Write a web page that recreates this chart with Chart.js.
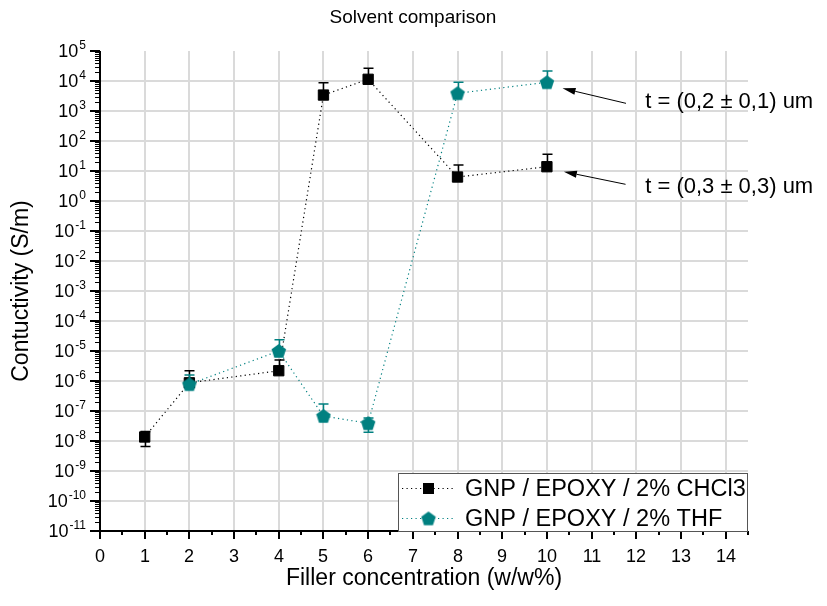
<!DOCTYPE html>
<html>
<head>
<meta charset="utf-8">
<script src="https://cdn.jsdelivr.net/npm/chart.js@4.4.0/dist/chart.umd.min.js"></script>
<style>
  html, body { margin: 0; padding: 0; background: #fff; }
  #wrap { width: 827px; height: 606px; }
</style>
</head>
<body>
<div id="wrap"><canvas id="chart" width="827" height="606"></canvas></div>
<script>
(() => {
  const chartTitle = 'Solvent comparison';
  const xTitle = 'Filler concentration (w/w%)';
  const yTitle = 'Contuctivity (S/m)';

  const xTicks = [0, 1, 2, 3, 4, 5, 6, 7, 8, 9, 10, 11, 12, 13, 14];
  const yExponents = [-11, -10, -9, -8, -7, -6, -5, -4, -3, -2, -1, 0, 1, 2, 3, 4, 5];

  const chclLabel = 'GNP / EPOXY / 2% CHCl3';
  const chclX = [1, 2, 4, 5, 6, 8, 10];
  const chclY = [1.36e-8, 8.7e-7, 2.2e-6, 3.4e3, 1.14e4, 6.3, 13.9];
  const chclErr = [7e-9, 1.33e-6, 2.8e-6, 5.4e3, 1.5e4, 9.5, 22];

  const thfLabel = 'GNP / EPOXY / 2% THF';
  const thfX = [2, 4, 5, 6, 8, 10];
  const thfY = [7.8e-7, 1e-5, 6.8e-8, 3.9e-8, 3.9e3, 9.05e3];
  const thfErr = [8e-7, 1.35e-5, 1.03e-7, 1.95e-8, 5.2e3, 1.25e4];

  // notes: text anchor, arrow tail and tip, all in data units
  const notes = [
    { text: 't = (0,2 \u00b1 0,1) um', at: [12.2, 2.0e3], from: [11.77, 1.8e3], to: [10.35, 5.7e3] },
    { text: 't = (0,3 \u00b1 0,3) um', at: [12.2, 3.0], from: [11.76, 3.6], to: [10.38, 9.5] }
  ];

  const FONT = '"Liberation Sans", Arial, sans-serif';
  const TEAL = '#008080';
  const GRID = '#dadada';

  // pentagon marker
  const pentagon = document.createElement('canvas');
  pentagon.width = 16; pentagon.height = 16;
  {
    const p = pentagon.getContext('2d');
    p.fillStyle = TEAL;
    p.beginPath();
    for (let k = 0; k < 5; k++) {
      const a = -Math.PI / 2 + k * 2 * Math.PI / 5;
      const px = 8 + 7.6 * Math.cos(a), py = 8.6 + 7.6 * Math.sin(a);
      k ? p.lineTo(px, py) : p.moveTo(px, py);
    }
    p.closePath();
    p.fill();
  }

  const toPoints = (xs, ys) => xs.map((x, i) => ({ x, y: ys[i] }));

  const isDecade = v => Math.abs(Math.log10(v) - Math.round(Math.log10(v))) < 1e-6;

  function drawErrors(chart, index) {
    const ds = chart.data.datasets[index];
    const { ctx } = chart;
    const x = chart.scales.x, y = chart.scales.y;
    ctx.save();
    ctx.strokeStyle = ds.errColor;
    ctx.lineWidth = 1.5;
    ds.data.forEach((p, i) => {
      const e = ds.errors[i];
      const px = Math.round(x.getPixelForValue(p.x)) + 0.5;
      const hi = y.getPixelForValue(p.y + e);
      const hasLo = p.y - e > 0;
      const lo = y.getPixelForValue(hasLo ? p.y - e : p.y);
      ctx.beginPath();
      ctx.moveTo(px, hi); ctx.lineTo(px, lo);
      ctx.moveTo(px - 5, hi); ctx.lineTo(px + 5, hi);
      if (hasLo) { ctx.moveTo(px - 5, lo); ctx.lineTo(px + 5, lo); }
      ctx.stroke();
    });
    ctx.restore();
  }

  function arrow(ctx, x1, y1, x2, y2) {
    const ang = Math.atan2(y2 - y1, x2 - x1);
    const len = 13, hw = 3.5;
    const bx = x2 - len * Math.cos(ang), by = y2 - len * Math.sin(ang);
    ctx.beginPath();
    ctx.moveTo(x1, y1); ctx.lineTo(bx, by);
    ctx.stroke();
    ctx.beginPath();
    ctx.moveTo(x2, y2);
    ctx.lineTo(bx + hw * Math.sin(ang), by - hw * Math.cos(ang));
    ctx.lineTo(bx - hw * Math.sin(ang), by + hw * Math.cos(ang));
    ctx.closePath();
    ctx.fill();
  }

  const decor = {
    id: 'decor',
    beforeDatasetDraw(chart, args) { drawErrors(chart, args.index); },
    afterDraw(chart) {
      const { ctx, chartArea: a } = chart;
      const x = chart.scales.x, y = chart.scales.y;
      ctx.save();
      ctx.strokeStyle = '#000';
      ctx.fillStyle = '#000';

      // y ticks
      yExponents.forEach((e, i) => {
        const py = Math.round(y.getPixelForValue(Math.pow(10, e)));
        ctx.lineWidth = 2;
        ctx.beginPath(); ctx.moveTo(a.left - 10, py); ctx.lineTo(a.left, py); ctx.stroke();
        if (i < yExponents.length - 1) {
          ctx.lineWidth = 1;
          for (let m = 2; m <= 9; m++) {
            const my = Math.round(y.getPixelForValue(m * Math.pow(10, e))) + 0.5;
            ctx.beginPath(); ctx.moveTo(a.left - 5, my); ctx.lineTo(a.left, my); ctx.stroke();
          }
        }
        // label 10^e
        ctx.textBaseline = 'alphabetic';
        ctx.font = '12px ' + FONT;
        const sup = String(e);
        const ws = ctx.measureText(sup).width;
        ctx.font = '18px ' + FONT;
        const wb = ctx.measureText('10').width;
        const right = a.left - 14;
        ctx.textAlign = 'left';
        ctx.fillText('10', right - ws - wb - 1, py + 6);
        ctx.font = '12px ' + FONT;
        ctx.fillText(sup, right - ws, py - 2);
      });

      // x ticks
      ctx.font = '18px ' + FONT;
      ctx.textAlign = 'center';
      ctx.textBaseline = 'alphabetic';
      xTicks.forEach(v => {
        const px = Math.round(x.getPixelForValue(v));
        ctx.lineWidth = 2;
        ctx.beginPath(); ctx.moveTo(px, a.bottom); ctx.lineTo(px, a.bottom + 8); ctx.stroke();
        const mx = Math.round(x.getPixelForValue(v + 0.5));
        ctx.beginPath(); ctx.moveTo(mx, a.bottom); ctx.lineTo(mx, a.bottom + 4); ctx.stroke();
        ctx.fillText(String(v), px, a.bottom + 31);
      });

      // axis lines
      ctx.lineWidth = 2;
      ctx.beginPath();
      ctx.moveTo(a.left, a.top); ctx.lineTo(a.left, a.bottom);
      ctx.lineTo(a.right, a.bottom);
      ctx.stroke();

      // titles
      ctx.textBaseline = 'middle';
      ctx.font = '19px ' + FONT;
      ctx.fillText(chartTitle, 413, 18);
      ctx.font = '23px ' + FONT;
      ctx.fillText(xTitle, (a.left + a.right) / 2, 579);
      ctx.save();
      ctx.translate(22, (a.top + a.bottom) / 2);
      ctx.rotate(-Math.PI / 2);
      ctx.fillText(yTitle, 0, 0);
      ctx.restore();

      // notes
      ctx.lineWidth = 1;
      ctx.textAlign = 'left';
      ctx.font = '22px ' + FONT;
      notes.forEach(n => {
        arrow(ctx, x.getPixelForValue(n.from[0]), y.getPixelForValue(n.from[1]),
          x.getPixelForValue(n.to[0]), y.getPixelForValue(n.to[1]));
        ctx.fillText(n.text, x.getPixelForValue(n.at[0]), y.getPixelForValue(n.at[1]));
      });

      // legend
      const lw = 349, lh = 58;
      const lx = a.right - 1 - lw, ly = a.bottom - lh;
      ctx.fillStyle = '#fff';
      ctx.fillRect(lx, ly, lw, lh);
      ctx.strokeStyle = '#555';
      ctx.lineWidth = 1;
      ctx.strokeRect(lx + 0.5, ly + 0.5, lw, lh);
      chart.data.datasets.forEach((ds, i) => {
        const ry = ly + 15.5 + i * 30;
        ctx.save();
        ctx.strokeStyle = ds.borderColor;
        ctx.lineWidth = 1.2;
        ctx.setLineDash(ds.borderDash);
        ctx.beginPath(); ctx.moveTo(lx + 4, ry); ctx.lineTo(lx + 57, ry); ctx.stroke();
        ctx.restore();
        const mx = lx + 30.5;
        if (ds.pointStyle === 'rect') {
          ctx.fillStyle = '#000';
          ctx.fillRect(mx - 5.5, ry - 5.5, 11, 11);
        } else {
          ctx.drawImage(ds.pointStyle, mx - 8, ry - 8);
        }
        ctx.fillStyle = '#000';
        ctx.font = '23.5px ' + FONT;
        ctx.textBaseline = 'middle';
        ctx.fillText(ds.label, lx + 67, ry + 1);
      });
      ctx.restore();
    }
  };

  const ctx = document.getElementById('chart').getContext('2d');
  new Chart(ctx, {
    type: 'scatter',
    data: {
      datasets: [
        {
          label: chclLabel, data: toPoints(chclX, chclY), errors: chclErr, errColor: '#000',
          showLine: true, borderColor: '#000', borderWidth: 1.2, borderDash: [1.2, 3.3],
          pointStyle: 'rect', pointRadius: 7.3, pointBackgroundColor: '#000',
          pointBorderColor: '#000', pointBorderWidth: 1, order: 1
        },
        {
          label: thfLabel, data: toPoints(thfX, thfY), errors: thfErr, errColor: TEAL,
          showLine: true, borderColor: TEAL, borderWidth: 1.2, borderDash: [1.2, 3.3],
          pointStyle: pentagon, pointRadius: 8, order: 0
        }
      ]
    },
    options: {
      responsive: false,
      animation: false,
      layout: { padding: { top: 51, right: 79, left: 0, bottom: 0 } },
      plugins: { legend: { display: false }, tooltip: { enabled: false }, title: { display: false } },
      scales: {
        x: {
          type: 'linear', min: 0, max: 14.5,
          afterFit: s => { s.height = 75; },
          afterBuildTicks: s => { s.ticks = xTicks.map(v => ({ value: v })); },
          ticks: { display: false },
          border: { display: false },
          grid: { drawTicks: false, lineWidth: 2, color: c => (c.tick && c.tick.value === 0) ? 'rgba(0,0,0,0)' : GRID }
        },
        y: {
          type: 'logarithmic', min: 1e-11, max: 1e5,
          afterFit: s => { s.width = 100; },
          afterBuildTicks: s => { s.ticks = yExponents.map(e => ({ value: Math.pow(10, e) })); },
          ticks: { display: false },
          border: { display: false },
          grid: {
            drawTicks: false, lineWidth: 2,
            color: c => (c.tick && isDecade(c.tick.value) && c.tick.value > 2e-11 && c.tick.value < 5e4) ? GRID : 'rgba(0,0,0,0)'
          }
        }
      }
    },
    plugins: [decor]
  });
})();
</script>
</body>
</html>
